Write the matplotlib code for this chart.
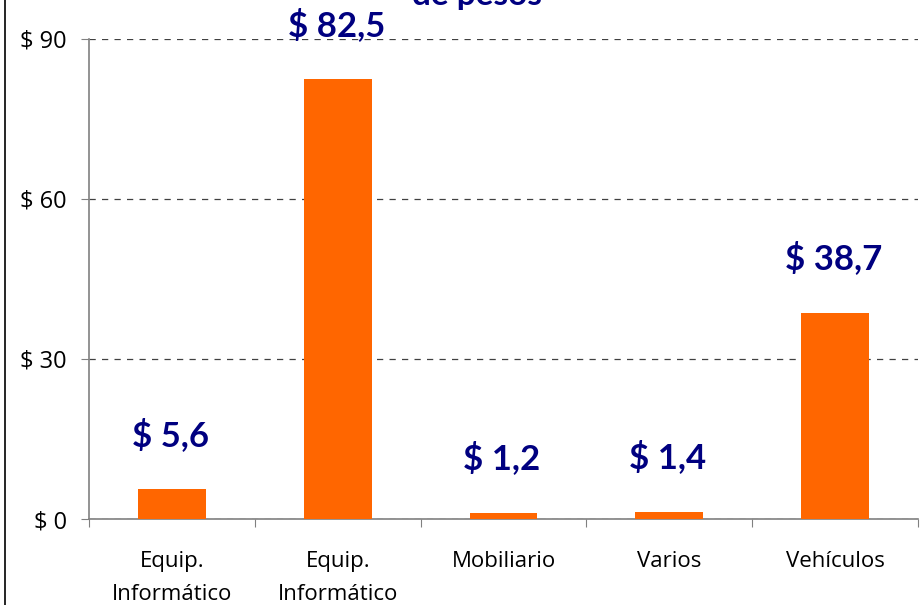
import matplotlib
matplotlib.use("Agg")
import matplotlib.pyplot as plt
from matplotlib.lines import Line2D
from matplotlib.ticker import FixedLocator, NullFormatter

categories = ["Equip.\nInformático", "Equip.\nInformático", "Mobiliario", "Varios", "Vehículos"]
values = [5.6, 82.5, 1.2, 1.4, 38.7]
value_labels = ["$ 5,6", "$ 82,5", "$ 1,2", "$ 1,4", "$ 38,7"]
yticks = [0, 30, 60, 90]
ytick_labels = ["$ 0", "$ 30", "$ 60", "$ 90"]
title_text = "de pesos"

plt.rcParams['font.family'] = ['Open Sans', 'DejaVu Sans']

W, H = 921, 605
fig = plt.figure(figsize=(W / 100, H / 100), dpi=100)
ax = fig.add_axes([89 / W, 1 - 519 / H, (918 - 89) / W, (519 - 39) / H])

x = list(range(len(values)))
ax.bar(x, values, width=0.41, color="#FF6600", zorder=3)
ax.set_xlim(-0.5, len(values) - 0.5)
ax.set_ylim(0, 90)

for xi, v, lab in zip(x, values, value_labels):
    ax.annotate(lab, (xi, v), xytext=(-1, 39), textcoords="offset points",
                ha="center", va="center", fontsize=25, fontweight="bold",
                family=["Lato", "DejaVu Sans"],
                color="#000080", zorder=5, annotation_clip=False)

ax.set_yticks(yticks)
ax.set_yticklabels(ytick_labels, fontsize=17)
ax.yaxis.grid(True, linestyle=(0, (5, 5)), color="#404040", linewidth=0.9, zorder=0)
ax.tick_params(axis="y", direction="out", length=6, color="#808080", pad=10)

ax.xaxis.set_major_locator(FixedLocator([i - 0.5 for i in range(len(values) + 1)]))
ax.xaxis.set_major_formatter(NullFormatter())
ax.xaxis.set_minor_locator(FixedLocator(x))
ax.set_xticks(x, minor=True)
ax.set_xticklabels(categories, minor=True, fontsize=16, linespacing=1.75)
ax.tick_params(axis="x", which="minor", length=0, pad=23)
ax.tick_params(axis="x", which="major", direction="out", length=6, color="#808080")
for lbl in ax.get_xticklabels(minor=True):
    lbl.set_va("top")

for s in ["top", "right"]:
    ax.spines[s].set_visible(False)
for s in ["left", "bottom"]:
    ax.spines[s].set_color("#808080")
    ax.spines[s].set_linewidth(1.2)

fig.text(477 / W, 1 - 5 / H, title_text, ha="center", va="baseline",
         fontsize=24, fontweight="bold", color="#000080",
         family=["Lato", "DejaVu Sans"])

fig.add_artist(Line2D([5 / W, 5 / W], [0, 1], transform=fig.transFigure,
                      color="black", linewidth=1.2))

fig.savefig("out.png", dpi=100)
